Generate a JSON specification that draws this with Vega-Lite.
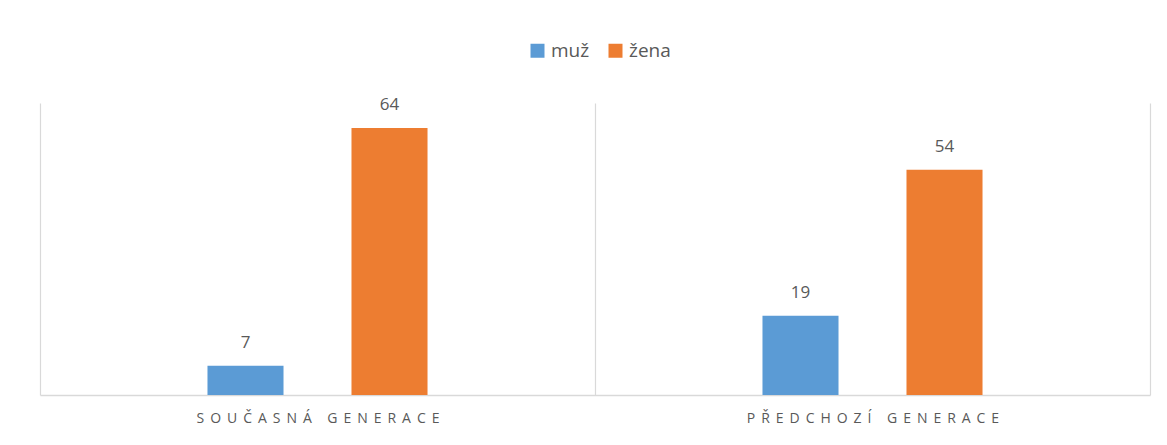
{
  "$schema": "https://vega.github.io/schema/vega-lite/v6.json",
  "width": 1110,
  "height": 292,
  "autosize": {"type": "none"},
  "padding": {"left": 40, "top": 103, "right": 17, "bottom": 50},
  "background": "white",
  "config": {
    "view": {"stroke": null},
    "font": "Open Sans"
  },
  "data": {
    "values": [
      {"generace": "SOUČASNÁ GENERACE", "pohlavi": "muž", "hodnota": 7},
      {"generace": "SOUČASNÁ GENERACE", "pohlavi": "žena", "hodnota": 64},
      {"generace": "PŘEDCHOZÍ GENERACE", "pohlavi": "muž", "hodnota": 19},
      {"generace": "PŘEDCHOZÍ GENERACE", "pohlavi": "žena", "hodnota": 54}
    ]
  },
  "encoding": {
    "x": {
      "field": "generace",
      "type": "nominal",
      "sort": null,
      "scale": {"paddingInner": 0, "paddingOuter": 0},
      "axis": {
        "title": null,
        "tickBand": "extent",
        "grid": true,
        "gridColor": "#d9d9d9",
        "gridWidth": 1.2,
        "ticks": false,
        "domainColor": "#d9d9d9",
        "domainWidth": 1.5,
        "labelAngle": 0,
        "labelFont": "Open Sans",
        "labelFontSize": 14,
        "labelColor": "#595959",
        "labelPadding": 16,
        "labelLimit": 0,
        "labelExpr": "join(split(datum.label, ''), '\u00a0\u2009')"
      }
    },
    "xOffset": {
      "field": "pohlavi",
      "type": "nominal",
      "scale": {"domain": ["_a", "muž", "žena", "_b"], "paddingInner": 0.472, "paddingOuter": 0.163}
    },
    "y": {
      "field": "hodnota",
      "type": "quantitative",
      "scale": {"domain": [0, 70], "nice": false},
      "axis": null
    }
  },
  "layer": [
    {
      "mark": {"type": "bar"},
      "encoding": {
        "color": {
          "field": "pohlavi",
          "type": "nominal",
          "sort": ["muž", "žena"],
          "scale": {"domain": ["muž", "žena"], "range": ["#5b9bd5", "#ed7d31"]},
          "legend": {
            "title": null,
            "orient": "none",
            "direction": "horizontal",
            "legendX": 488,
            "legendY": -62,
            "symbolType": "square",
            "symbolSize": 196,
            "symbolStrokeWidth": 0,
            "symbolOpacity": 1,
            "labelFont": "Open Sans",
            "labelFontSize": 19,
            "labelColor": "#595959",
            "labelOffset": 4,
            "columnPadding": 16,
            "padding": 0
          }
        }
      }
    },
    {
      "mark": {"type": "text", "baseline": "alphabetic", "dy": -18, "font": "Open Sans", "fontSize": 17, "color": "#595959"},
      "encoding": {
        "text": {"field": "hodnota", "type": "quantitative"}
      }
    }
  ]
}
